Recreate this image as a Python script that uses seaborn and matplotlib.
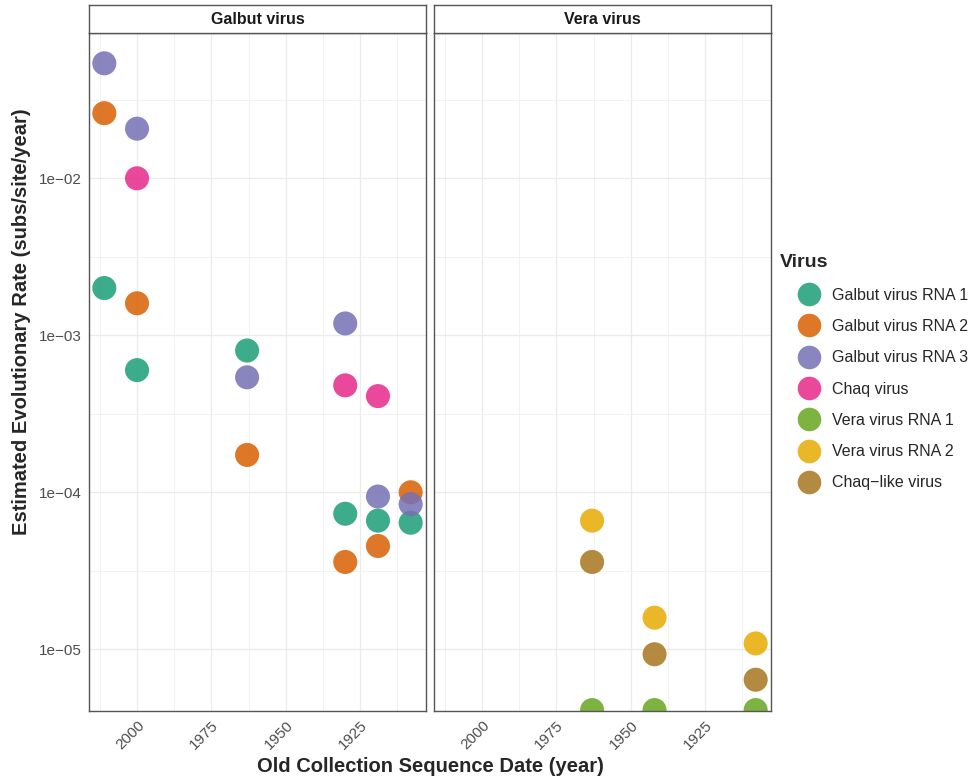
import numpy as np
import pandas as pd
import seaborn as sns
import matplotlib.pyplot as plt
from matplotlib.lines import Line2D
from matplotlib.ticker import FixedLocator, NullFormatter

# === Data ===
galbut_years = [2011, 2000, 1963, 1930, 1919, 1908]
galbut_rna1 = [2.0e-3, 6.0e-4, 8.0e-4, 7.3e-5, 6.6e-5, 6.4e-5]
galbut_rna2 = [2.6e-2, 1.6e-3, 1.73e-4, 3.6e-5, 4.55e-5, 1.0e-4]
galbut_rna3 = [5.4e-2, 2.07e-2, 5.4e-4, 1.19e-3, 9.4e-5, 8.4e-5]

chaq_years = [2000, 1930, 1919]
chaq_rates = [1.0e-2, 4.8e-4, 4.1e-4]

vera_years = [1963, 1942, 1908]
vera_rna1 = [4.1e-6, 4.1e-6, 4.1e-6]
vera_rna2 = [6.6e-5, 1.59e-5, 1.09e-5]
chaq_like = [3.6e-5, 9.3e-6, 6.4e-6]

virus_order = ["Galbut virus RNA 1", "Galbut virus RNA 2", "Galbut virus RNA 3",
               "Chaq virus", "Vera virus RNA 1", "Vera virus RNA 2", "Chaq\u2212like virus"]
panels = ["Galbut virus", "Vera virus"]

x_ticks = [2000, 1975, 1950, 1925]
y_ticks = [1e-2, 1e-3, 1e-4, 1e-5]
y_tick_labels = ["1e\u221202", "1e\u221203", "1e\u221204", "1e\u221205"]

# === Build long table ===
rows = []
for virus, panel, years, rates in [
    (virus_order[0], panels[0], galbut_years, galbut_rna1),
    (virus_order[1], panels[0], galbut_years, galbut_rna2),
    (virus_order[2], panels[0], galbut_years, galbut_rna3),
    (virus_order[3], panels[0], chaq_years, chaq_rates),
    (virus_order[4], panels[1], vera_years, vera_rna1),
    (virus_order[5], panels[1], vera_years, vera_rna2),
    (virus_order[6], panels[1], vera_years, chaq_like),
]:
    for yr, r in zip(years, rates):
        rows.append({"Panel": panel, "Virus": virus, "Year": yr, "Rate": r})
df = pd.DataFrame(rows)

palette = dict(zip(virus_order, sns.color_palette("Dark2", 7)))

sns.set_style("white")
plt.rcParams["font.family"] = ["Liberation Sans", "DejaVu Sans"]

fig = plt.figure(figsize=(9.75, 7.8), dpi=100)
W, H = 975, 780
panel_lefts = [89, 434]
panel_w, top, bottom = 337, 33, 711

for panel, left in zip(panels, panel_lefts):
    ax = fig.add_axes([left / W, 1 - bottom / H, panel_w / W, (bottom - top) / H])
    sns.scatterplot(data=df[df["Panel"] == panel], x="Year", y="Rate", hue="Virus",
                    palette=palette, hue_order=virus_order, s=300, alpha=0.85,
                    edgecolor="none", legend=False, ax=ax)
    ax.set_yscale("log")
    ax.set_xlim(2016.15, 1902.85)
    ax.set_ylim(10 ** -5.393, 10 ** -1.0745)

    ax.xaxis.set_major_locator(FixedLocator(x_ticks))
    ax.xaxis.set_minor_locator(FixedLocator([2012.5, 1987.5, 1962.5, 1937.5, 1912.5]))
    ax.yaxis.set_major_locator(FixedLocator(y_ticks))
    ax.yaxis.set_minor_locator(FixedLocator([10 ** -1.5, 10 ** -2.5, 10 ** -3.5, 10 ** -4.5]))
    ax.yaxis.set_minor_formatter(NullFormatter())
    ax.grid(which="major", color="#EBEBEB", lw=0.9)
    ax.grid(which="minor", color="#F2F2F2", lw=0.7)
    ax.set_axisbelow(True)

    ax.set_xticklabels([str(t) for t in x_ticks], rotation=45, ha="right", va="top",
                       rotation_mode="anchor", color="#4D4D4D", fontsize=11)
    if left == panel_lefts[0]:
        ax.set_yticklabels(y_tick_labels, color="#4D4D4D", fontsize=11)
    else:
        ax.set_yticklabels([])
    ax.tick_params(which="both", length=0, pad=5)
    ax.set_xlabel("")
    ax.set_ylabel("")
    for sp in ax.spines.values():
        sp.set_color("#555555")
        sp.set_linewidth(1.0)

    # facet strip
    strip = fig.add_axes([left / W, 1 - top / H, panel_w / W, 28 / H])
    strip.set_xticks([])
    strip.set_yticks([])
    for sp in strip.spines.values():
        sp.set_color("#555555")
        sp.set_linewidth(1.0)
    strip.text(0.5, 0.5, panel, ha="center", va="center", fontsize=11.5,
               fontweight="bold", color="#1A1A1A", transform=strip.transAxes)

fig.text(22 / W, 1 - 322 / H, "Estimated Evolutionary Rate (subs/site/year)", rotation=90,
         ha="center", va="center", fontsize=14.5, fontweight="bold")
fig.text(430 / W, 1 - 766 / H, "Old Collection Sequence Date (year)",
         ha="center", va="center", fontsize=14.5, fontweight="bold")

handles = [Line2D([], [], marker="o", linestyle="none", markersize=17,
                  markerfacecolor=palette[v], markeredgecolor="none", alpha=0.85)
           for v in virus_order]
leg = fig.legend(handles, virus_order, title="Virus", loc="upper left",
                 bbox_to_anchor=(765 / W, 1 - 240 / H), frameon=False,
                 fontsize=11.5, title_fontsize=14, labelspacing=1.02,
                 handlelength=3.75, handletextpad=-0.44, alignment="left")
leg.get_title().set_fontweight("bold")

fig.savefig("out.png", dpi=100)
